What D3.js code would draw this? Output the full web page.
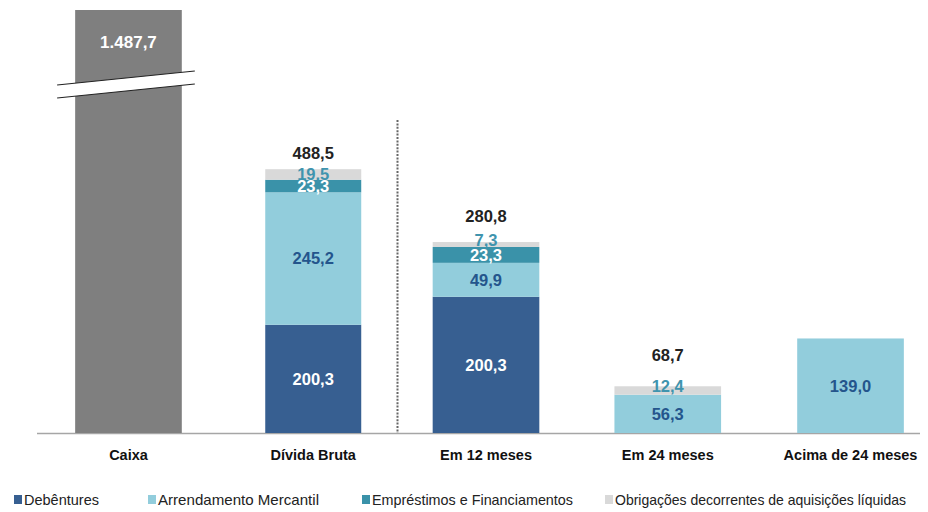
<!DOCTYPE html>
<html><head><meta charset="utf-8">
<script src="https://cdn.jsdelivr.net/npm/d3@7/dist/d3.min.js"></script>
<style>
body{margin:0;background:#fff;}
svg{display:block;}
.cat{font-family:"Liberation Sans",Arial,sans-serif;font-weight:bold;font-size:14.5px;fill:#111;}
.leg{font-family:"Liberation Sans",Arial,sans-serif;font-size:15px;fill:#222;}
.val{font-family:"Liberation Sans",Arial,sans-serif;font-weight:bold;font-size:16.5px;}
</style></head>
<body>
<svg id="c" width="928" height="512"></svg>
<script>
// ---- data ----
const categories = ["Caixa", "Dívida Bruta", "Em 12 meses", "Em 24 meses", "Acima de 24 meses"];
const caixaValue = 1487.7;
const debentures   = [0, 200.3, 200.3, 0, 0];
const arrendamento = [0, 245.2, 49.9, 56.3, 139.0];
const emprestimos  = [0, 23.3, 23.3, 0, 0];
const obrigacoes   = [0, 19.5, 7.3, 12.4, 0];
const totals       = [1487.7, 488.5, 280.8, 68.7, null];
const seriesNames  = ["Debêntures", "Arrendamento Mercantil", "Empréstimos e Financiamentos", "Obrigações decorrentes de aquisições líquidas"];

// ---- styles / layout ----
const seriesColors = ["#375f91", "#92cddc", "#3a92a9", "#d9d9d9"];
const labelColors  = ["#ffffff", "#24558c", "#ffffff", "#3f94ae"];
const caixaColor = "#7f7f7f";
const scaleGroup = ["left", "left", "right", "right", "right"];
const widthFactor = [1, 0.9, 1, 1, 1];
const centerShift = [1, 5, -3, -2, 0];
const totalOffsets = [0, 16, 26, 31, 0];
const legendX = [14, 148, 362, 605];
const legendTextWidth = [75, 161, 201, 291];

const svg = d3.select("#c");
const baseY = 433, topY = 10;
const x = d3.scaleBand().domain(categories).range([38, 940]).paddingInner(0.41).paddingOuter(0.2);
const yLeft = d3.scaleLinear().domain([0, 783]).range([baseY, topY]).clamp(true);
const yRight = d3.scaleLinear().domain([0, 622]).range([baseY, topY]).clamp(true);
const yOf = i => scaleGroup[i] === "left" ? yLeft : yRight;
const loc = d3.formatLocale({decimal: ",", thousands: ".", grouping: [3], currency: ["", ""]});
const fmt = loc.format(",.1f");

function barGeom(i) {
  const c = categories[i];
  const w = x.bandwidth() * widthFactor[i];
  const cx = x(c) + x.bandwidth() / 2 + centerShift[i];
  return {x0: cx - w / 2, w, cx};
}

// axis baseline
svg.append("line").attr("x1", 37).attr("x2", 920).attr("y1", baseY + 0.5).attr("y2", baseY + 0.5)
  .attr("stroke", "#a6a6a6").attr("stroke-width", 1.5);

// Caixa bar
{
  const g = barGeom(0);
  const yTop = yLeft(caixaValue);
  svg.append("rect").attr("x", g.x0).attr("y", yTop).attr("width", g.w).attr("height", baseY - yTop).attr("fill", caixaColor);
  svg.append("text").attr("class", "val").attr("x", g.cx).attr("y", yTop + 38).attr("text-anchor", "middle")
    .attr("fill", "#fff").style("font-size", "17px").text(fmt(caixaValue));
  // break marks
  const lx = g.x0 - 18, rx = g.x0 + g.w + 13;
  const uL = yTop + 75, uR = yTop + 61, gap = 13;
  svg.append("path").attr("d", `M${lx},${uL} L${rx},${uR} L${rx},${uR + gap} L${lx},${uL + gap} Z`).attr("fill", "#fff");
  svg.append("line").attr("x1", lx).attr("y1", uL).attr("x2", rx).attr("y2", uR).attr("stroke", "#222").attr("stroke-width", 1.2);
  svg.append("line").attr("x1", lx).attr("y1", uL + gap).attr("x2", rx).attr("y2", uR + gap).attr("stroke", "#222").attr("stroke-width", 1.2);
}

// stacked bars
const series = [debentures, arrendamento, emprestimos, obrigacoes];
for (let i = 1; i < categories.length; i++) {
  const y = yOf(i);
  const g = barGeom(i);
  let acc = 0;
  series.forEach((s, k) => {
    const v = s[i];
    if (!v) return;
    const y0 = y(acc), y1 = y(acc + v);
    svg.append("rect").attr("x", g.x0).attr("y", y1).attr("width", g.w).attr("height", y0 - y1).attr("fill", seriesColors[k]);
    acc += v;
  });
  acc = 0;
  series.forEach((s, k) => {
    const v = s[i];
    if (!v) return;
    const y0 = y(acc), y1 = y(acc + v);
    let mid = (y0 + y1) / 2;
    if (y0 - y1 < 10) mid -= 4;
    svg.append("text").attr("class", "val").attr("x", g.cx).attr("y", mid).attr("dy", "0.36em")
      .attr("text-anchor", "middle").attr("fill", labelColors[k]).text(fmt(v));
    acc += v;
  });
  if (totals[i] != null) {
    svg.append("text").attr("class", "val").attr("x", g.cx).attr("y", y(totals[i]) - totalOffsets[i]).attr("dy", "0.36em")
      .attr("text-anchor", "middle").attr("fill", "#222").text(fmt(totals[i]));
  }
}

// divider dotted line
{
  const a = barGeom(1), b = barGeom(2);
  const dx = Math.round((a.x0 + a.w + b.x0) / 2) + 0.5;
  svg.append("line").attr("x1", dx).attr("x2", dx).attr("y1", 120).attr("y2", baseY)
    .attr("stroke", "#666").attr("stroke-width", 2).attr("stroke-dasharray", "2,1.4");
}

// category labels
svg.selectAll("text.cat").data(categories).join("text").attr("class", "cat")
  .attr("x", (d, i) => barGeom(i).cx).attr("y", 460).attr("text-anchor", "middle").text(d => d);

// legend
const leg = svg.append("g");
seriesNames.forEach((n, k) => {
  leg.append("rect").attr("x", legendX[k]).attr("y", 495).attr("width", 8).attr("height", 9).attr("fill", seriesColors[k]);
  leg.append("text").attr("class", "leg").attr("x", legendX[k] + 10).attr("y", 505)
    .attr("textLength", legendTextWidth[k]).attr("lengthAdjust", "spacingAndGlyphs").text(n);
});
</script>
</body></html>
